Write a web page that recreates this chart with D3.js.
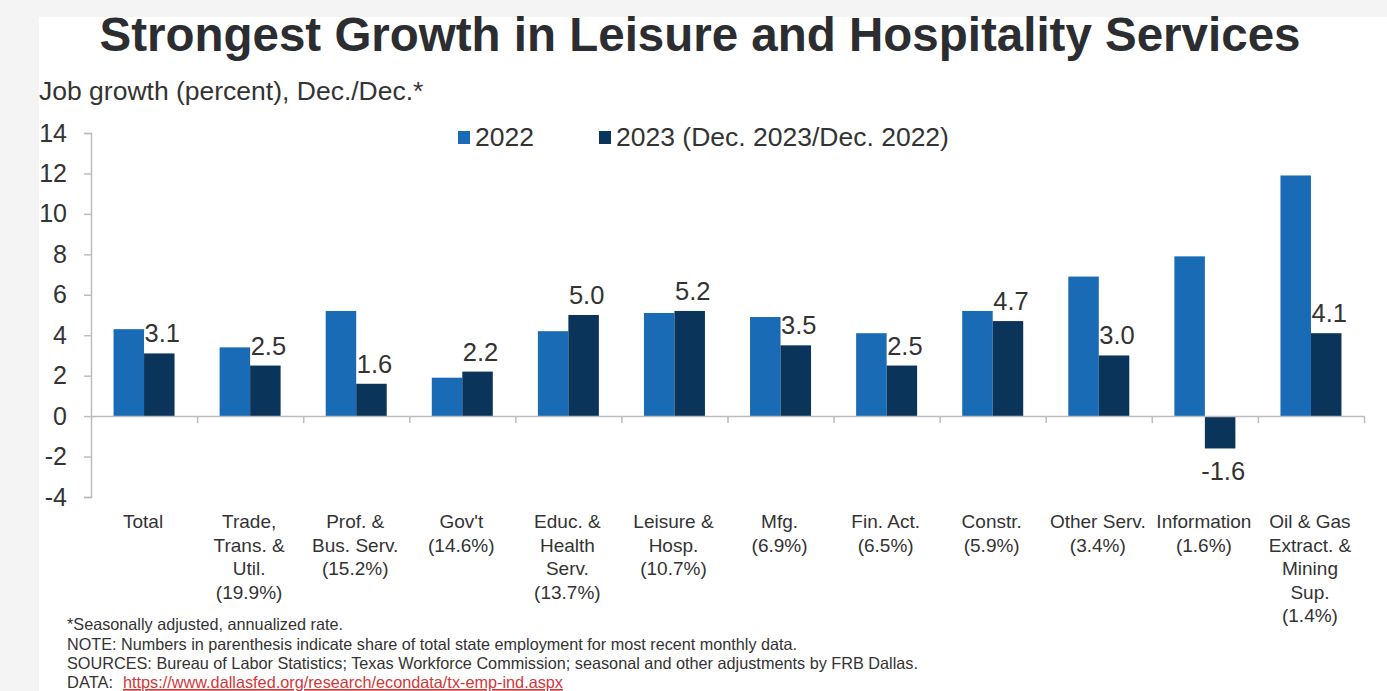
<!DOCTYPE html>
<html>
<head>
<meta charset="utf-8">
<script src="https://cdn.jsdelivr.net/npm/d3@7"></script>
<style>
    body { margin: 0; background: #f4f4f4; }
    svg { display: block; font-family: "Liberation Sans", Arial, sans-serif; }
</style>
</head>
<body>
<div id="chart"></div>
<script>
// Categories, with "|" where the label wraps
const categories = [
    "Total",
    "Trade,|Trans. &|Util.|(19.9%)",
    "Prof. &|Bus. Serv.|(15.2%)",
    "Gov't|(14.6%)",
    "Educ. &|Health|Serv.|(13.7%)",
    "Leisure &|Hosp.|(10.7%)",
    "Mfg.|(6.9%)",
    "Fin. Act.|(6.5%)",
    "Constr.|(5.9%)",
    "Other Serv.|(3.4%)",
    "Information|(1.6%)",
    "Oil & Gas|Extract. &|Mining|Sup.|(1.4%)"
];
const growth2022 = [4.3, 3.4, 5.2, 1.9, 4.2, 5.1, 4.9, 4.1, 5.2, 6.9, 7.9, 11.9];
const growth2023 = [3.1, 2.5, 1.6, 2.2, 5.0, 5.2, 3.5, 2.5, 4.7, 3.0, -1.6, 4.1];
const seriesNames = ["2022", "2023 (Dec. 2023/Dec. 2022)"];
const yTicks = [-4, -2, 0, 2, 4, 6, 8, 10, 12, 14];

const title = "Strongest Growth in Leisure and Hospitality Services";
const subtitle = "Job growth (percent), Dec./Dec.*";
const notes = [
    "*Seasonally adjusted, annualized rate.",
    "NOTE: Numbers in parenthesis indicate share of total state employment for most recent monthly data.",
    "SOURCES: Bureau of Labor Statistics; Texas Workforce Commission; seasonal and other adjustments by FRB Dallas."
];
const dataUrl = "https://www.dallasfed.org/research/econdata/tx-emp-ind.aspx";

const colors = ["#1a6bb6", "#0b345b"];
const textColor = "#333";

const width = 1387, height = 691;
const margin = { top: 133, right: 23, bottom: 194, left: 91 };
const innerW = width - margin.left - margin.right;
const innerH = height - margin.top - margin.bottom;

// hyphen instead of unicode minus, like the original
const fmtTick = d => String(d);
const fmtVal = d => d.toFixed(1);

const svg = d3.select("#chart").append("svg")
    .attr("width", width)
    .attr("height", height);

// white panel
svg.append("rect")
    .attr("x", 39).attr("y", 17)
    .attr("width", width - 39).attr("height", height - 17)
    .attr("fill", "#fff");

svg.append("text")
    .attr("x", 700).attr("y", 51)
    .attr("text-anchor", "middle")
    .attr("font-size", 47.5).attr("font-weight", "bold")
    .attr("fill", "#2b2d30")
    .text(title);

svg.append("text")
    .attr("x", 39).attr("y", 100)
    .attr("font-size", 26.5)
    .attr("fill", textColor)
    .text(subtitle);

// Scales
const data = categories.map((c, i) => ({ cat: c, values: [growth2022[i], growth2023[i]] }));

const x = d3.scaleBand()
    .domain(categories)
    .range([0, innerW])
    .paddingInner(0.425)
    .paddingOuter(0.2125);

const xSub = d3.scaleBand()
    .domain([0, 1])
    .range([0, x.bandwidth()]);

const y = d3.scaleLinear()
    .domain([-4, 14])
    .range([innerH, 0]);

const chart = svg.append("g")
    .attr("transform", `translate(${margin.left},${margin.top})`);

// Axes
const yAxis = d3.axisLeft(y).tickValues(yTicks).tickFormat(fmtTick)
    .tickSize(7).tickPadding(17).tickSizeOuter(7);
const yAxisG = chart.append("g").call(yAxis);
yAxisG.select(".domain").attr("stroke", "#bdbdbd").attr("stroke-width", 1.5);
yAxisG.selectAll(".tick line").attr("stroke", "#bdbdbd").attr("stroke-width", 1.5);
yAxisG.selectAll(".tick text")
    .attr("font-size", 25).attr("font-family", "Liberation Sans, Arial, sans-serif")
    .attr("fill", textColor);

// bars
const groups = chart.selectAll(".cat")
    .data(data)
    .join("g")
    .attr("class", "cat")
    .attr("transform", d => `translate(${x(d.cat)},0)`);

groups.selectAll("rect")
    .data(d => d.values.map((v, i) => ({ v, i })))
    .join("rect")
    .attr("x", d => xSub(d.i))
    .attr("y", d => y(Math.max(0, d.v)))
    .attr("width", xSub.bandwidth())
    .attr("height", d => Math.abs(y(d.v) - y(0)))
    .attr("fill", d => colors[d.i]);

// 2023 value labels
groups.append("text")
    .attr("x", xSub(1) + xSub.bandwidth() / 2 + 3)
    .attr("y", d => d.values[1] >= 0 ? y(d.values[1]) - 11 : y(d.values[1]) + 32)
    .attr("text-anchor", "middle")
    .attr("font-size", 25.5)
    .attr("fill", textColor)
    .text(d => fmtVal(d.values[1]));

// x axis along zero, ticks on category boundaries
const xEdge = d3.scaleLinear().domain([0, categories.length]).range([0, innerW]);
const xAxis = d3.axisBottom(xEdge).ticks(categories.length).tickSize(7).tickFormat("").tickSizeOuter(0);
const xAxisG = chart.append("g")
    .attr("transform", `translate(0,${y(0)})`)
    .call(xAxis);
xAxisG.select(".domain").attr("stroke", "#bdbdbd").attr("stroke-width", 1.5);
xAxisG.selectAll(".tick line").attr("stroke", "#bdbdbd").attr("stroke-width", 1.5);
xAxisG.selectAll(".tick").filter(d => d === 0).remove();

// category labels
const catText = chart.selectAll(".cat-label")
    .data(categories)
    .join("text")
    .attr("class", "cat-label")
    .attr("text-anchor", "middle")
    .attr("font-size", 19)
    .attr("fill", textColor)
    .attr("transform", d => `translate(${x(d) + x.bandwidth() / 2 - 1},${innerH + 31})`);
catText.selectAll("tspan")
    .data(d => d.split("|"))
    .join("tspan")
    .attr("x", 0)
    .attr("dy", (d, i) => i === 0 ? 0 : 23.5)
    .text(d => d);

// legend
const legend = svg.append("g").attr("transform", "translate(458,131)");
const legendX = [0, 141];
seriesNames.forEach((name, i) => {
    legend.append("rect")
        .attr("x", legendX[i]).attr("y", 0)
        .attr("width", 12).attr("height", 13)
        .attr("fill", colors[i]);
    legend.append("text")
        .attr("x", legendX[i] + 17).attr("y", 15)
        .attr("font-size", 26.5)
        .attr("fill", textColor)
        .text(name);
});

// footnotes
const noteWidths = [276, 730, 851];
notes.forEach((n, i) => {
    svg.append("text")
        .attr("x", 67).attr("y", 630 + i * 19.5)
        .attr("font-size", 16.5)
        .attr("fill", textColor)
        .attr("textLength", noteWidths[i])
        .attr("lengthAdjust", "spacingAndGlyphs")
        .text(n);
});
svg.append("text")
    .attr("x", 67).attr("y", 688)
    .attr("font-size", 16.5)
    .attr("fill", textColor)
    .attr("textLength", 46)
    .attr("lengthAdjust", "spacingAndGlyphs")
    .text("DATA:");
svg.append("text")
    .attr("x", 123).attr("y", 688)
    .attr("font-size", 16.5)
    .attr("fill", "#d0383a")
    .attr("text-decoration", "underline")
    .attr("textLength", 440)
    .attr("lengthAdjust", "spacingAndGlyphs")
    .text(dataUrl);
</script>
</body>
</html>
